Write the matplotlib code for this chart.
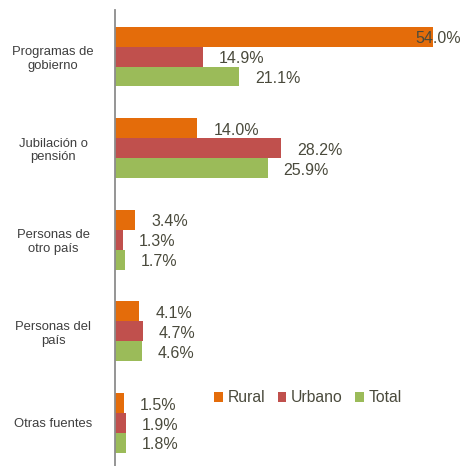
import numpy as np
import matplotlib.pyplot as plt

plt.rcParams['font.family'] = ['Liberation Sans', 'DejaVu Sans']

# data
categories = ['Programas de\ngobierno', 'Jubilación o\npensión', 'Personas de\notro país',
              'Personas del\npaís', 'Otras fuentes']
series = ['Rural', 'Urbano', 'Total']
rural = [54.0, 14.0, 3.4, 4.1, 1.5]
urbano = [14.9, 28.2, 1.3, 4.7, 1.9]
total = [21.1, 25.9, 1.7, 4.6, 1.8]
colors = ['#E46C0A', '#C0504D', '#9BBB59']

W, H = 462, 466
fig = plt.figure(figsize=(W / 100, H / 100), dpi=100)
# axes placed in pixel terms: left spine at x=115, top at y=10
ax = fig.add_axes([115 / W, 0, (W - 115) / W, 1 - 10 / H])

txt_col = '#4a4a3c'
y = np.arange(len(categories))
h = 0.218
for i, (name, vals, c) in enumerate(zip(series, [rural, urbano, total], colors)):
    pos = y + (i - 1) * h
    bars = ax.barh(pos, vals, height=h, color=c, label=name)
    for b, v in zip(bars, vals):
        off = 11.5 if v < 50 else -12.5
        ax.annotate(f'{v:.1f}%', (b.get_width(), b.get_y() + h / 2),
                    xytext=(off, -1.5), textcoords='offset points',
                    ha='left', va='center', fontsize=11.5, color=txt_col)

ax.set_xlim(0, 58.9)
ax.set_ylim(4.47, -0.508)
ax.set_xticks([])
ax.set_yticks(y, categories, ha='center', ma='center', fontsize=9.4, color='#3f3f3f')
ax.tick_params(axis='y', length=0, pad=44.6)
for s in ['top', 'right', 'bottom']:
    ax.spines[s].set_visible(False)
ax.spines['left'].set_color('#8c8c8c')
ax.spines['left'].set_linewidth(1.3)

fig.legend(loc='center', bbox_to_anchor=(308 / W, 1 - 398 / H), ncol=3, frameon=False,
           fontsize=11.3, handlelength=0.55, handleheight=0.55, handletextpad=0.3,
           columnspacing=0.8, labelcolor=txt_col)

fig.savefig('out.png', dpi=100)
